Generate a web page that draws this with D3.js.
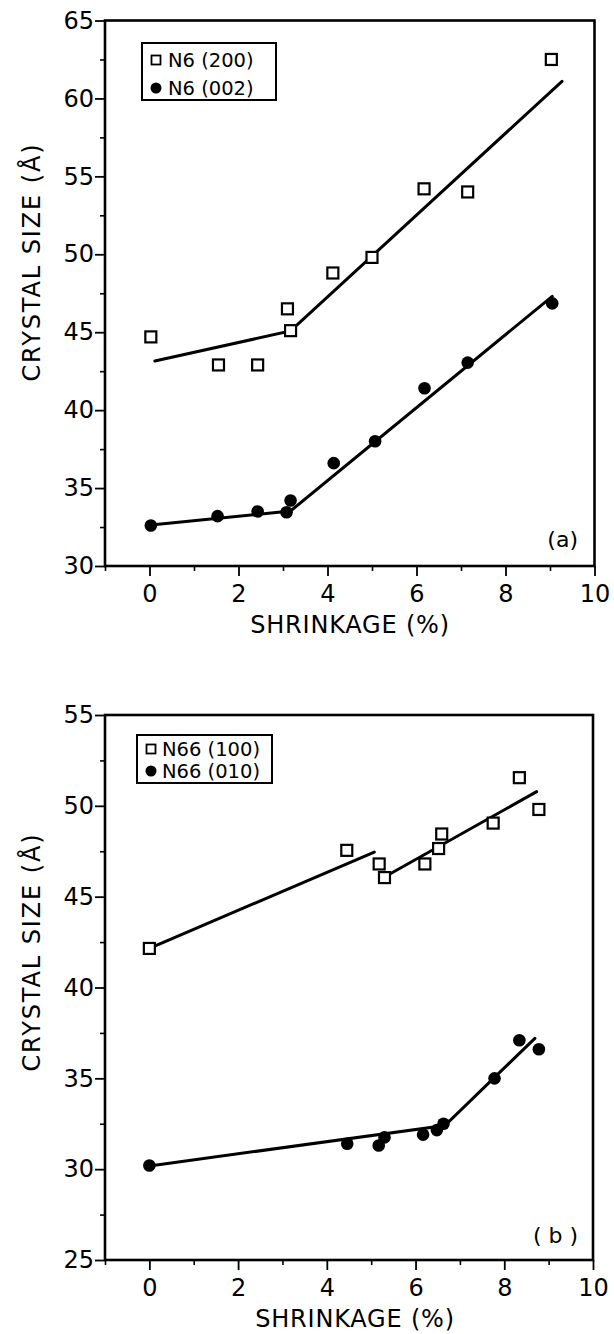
<!DOCTYPE html>
<html>
<head>
<meta charset="utf-8">
<script src="https://cdn.jsdelivr.net/npm/d3@7"></script>
<style>
  html, body { margin: 0; padding: 0; background: #fff; }
  svg { display: block; }
  text { font-family: "DejaVu Sans", "Liberation Sans", sans-serif; fill: #000; }
</style>
</head>
<body>
<svg id="chart" width="614" height="1334"></svg>
<script>
// ---- shared axis values ----
const xMajorTicks = [0, 2, 4, 6, 8, 10];
const xMinorTicks = [-1, 1, 3, 5, 7, 9];

// ---- panel (a): nylon 6 ----
const aYMajorTicks = [30, 35, 40, 45, 50, 55, 60, 65];
const aYMinorTicks = [32.5, 37.5, 42.5, 47.5, 52.5, 57.5, 62.5];

const n6_200_x = [0.03, 1.55, 2.43, 3.10, 3.17, 4.12, 5.00, 6.17, 7.15, 9.03];
const n6_200_y = [44.7, 42.9, 42.9, 46.5, 45.1, 48.8, 49.8, 54.2, 54.0, 62.5];
const n6_002_x = [0.03, 1.53, 2.43, 3.08, 3.17, 4.14, 5.07, 6.18, 7.15, 9.05];
const n6_002_y = [32.6, 33.2, 33.5, 33.45, 34.2, 36.6, 38.0, 41.4, 43.05, 46.85];

// fitted lines (x, y) for panel (a)
const n6_200_fitX = [0.12, 3.17, 9.27];
const n6_200_fitY = [43.15, 45.08, 61.1];
const n6_002_fitX = [0.03, 3.17, 9.05];
const n6_002_fitY = [32.63, 33.53, 47.3];

// ---- panel (b): nylon 66 ----
const bYMajorTicks = [25, 30, 35, 40, 45, 50, 55];
const bYMinorTicks = [27.5, 32.5, 37.5, 42.5, 47.5, 52.5];

const n66_100_x = [0.00, 4.45, 5.18, 5.30, 6.21, 6.52, 6.59, 7.75, 8.34, 8.78];
const n66_100_y = [42.15, 47.55, 46.8, 46.05, 46.8, 47.65, 48.45, 49.05, 51.55, 49.8];
const n66_010_x = [0.00, 4.46, 5.17, 5.30, 6.17, 6.48, 6.63, 7.78, 8.34, 8.78];
const n66_010_y = [30.2, 31.4, 31.3, 31.75, 31.9, 32.15, 32.5, 35.0, 37.1, 36.6];

// fitted lines for panel (b); the (100) fit is broken into two pieces
const n66_100_fit1X = [0.00, 5.07];
const n66_100_fit1Y = [42.16, 47.45];
const n66_100_fit2X = [5.42, 8.73];
const n66_100_fit2Y = [46.25, 50.78];
const n66_010_fitX = [0.00, 6.66, 8.69];
const n66_010_fitY = [30.18, 32.4, 37.2];

const svg = d3.select("#chart");

function zip(xs, ys) { return xs.map((x, i) => [x, ys[i]]); }

function drawPanel(p) {
  const x = d3.scaleLinear().domain([-1, 10]).range([p.left, p.right]);
  const y = d3.scaleLinear().domain(p.yDomain).range([p.bottom, p.top]);
  const g = svg.append("g");

  // minor ticks (unlabelled)
  g.append("g")
    .attr("transform", `translate(0,${p.bottom})`)
    .call(d3.axisBottom(x).tickValues(xMinorTicks).tickSize(5).tickFormat(""))
    .call(a => a.select(".domain").remove())
    .call(a => a.selectAll("line").attr("stroke-width", 1.6));
  g.append("g")
    .attr("transform", `translate(${p.left},0)`)
    .call(d3.axisLeft(y).tickValues(p.yMinor).tickSize(5).tickFormat(""))
    .call(a => a.select(".domain").remove())
    .call(a => a.selectAll("line").attr("stroke-width", 1.6));

  // major ticks with labels
  g.append("g")
    .attr("transform", `translate(0,${p.bottom})`)
    .call(d3.axisBottom(x).tickValues(xMajorTicks).tickSize(10).tickFormat(d3.format("d")))
    .call(a => a.select(".domain").remove())
    .call(a => a.selectAll("line").attr("stroke-width", 1.8))
    .call(a => a.selectAll("text")
      .attr("y", p.xLabelOffset).attr("dy", null)
      .style("font-size", "24px").attr("fill", "#000"));
  g.append("g")
    .attr("transform", `translate(${p.left},0)`)
    .call(d3.axisLeft(y).tickValues(p.yMajor).tickSize(10).tickPadding(1).tickFormat(d3.format("d")))
    .call(a => a.select(".domain").remove())
    .call(a => a.selectAll("line").attr("stroke-width", 1.8))
    .call(a => a.selectAll("text")
      .style("font-size", "24px").attr("fill", "#000"));

  // frame
  g.append("rect")
    .attr("x", p.left).attr("y", p.top)
    .attr("width", p.right - p.left).attr("height", p.bottom - p.top)
    .attr("fill", "none").attr("stroke", "#000").attr("stroke-width", 2.6);

  // axis titles
  g.append("text")
    .attr("x", p.xTitleX).attr("y", p.bottom + p.xTitleOffset)
    .attr("text-anchor", "middle")
    .style("font-size", "24px").style("letter-spacing", "0.8px")
    .text("SHRINKAGE (%)");
  g.append("text")
    .attr("transform", `translate(${p.yTitleX},${p.yTitleY}) rotate(-90)`)
    .attr("text-anchor", "middle").attr("dy", "0.36em")
    .style("font-size", "24px").style("letter-spacing", "1.9px")
    .text("CRYSTAL SIZE (Å)");

  // panel tag
  g.append("text")
    .attr("x", p.tagX).attr("y", p.tagY)
    .attr("text-anchor", "end")
    .style("font-size", "22px")
    .text(p.tag);

  // fitted lines
  const line = d3.line().x(d => x(d[0])).y(d => y(d[1]));
  p.fits.forEach(f => {
    g.append("path").datum(f)
      .attr("d", line).attr("fill", "none")
      .attr("stroke", "#000").attr("stroke-width", 3).attr("stroke-linecap", "round");
  });

  // open squares
  const s = 11;
  g.selectAll(null).data(p.squares).enter().append("rect")
    .attr("x", d => x(d[0]) - s / 2).attr("y", d => y(d[1]) - s / 2)
    .attr("width", s).attr("height", s)
    .attr("fill", "#fff").attr("stroke", "#000").attr("stroke-width", 2.2);

  // filled circles
  g.selectAll(null).data(p.circles).enter().append("circle")
    .attr("cx", d => x(d[0])).attr("cy", d => y(d[1])).attr("r", 6.3)
    .attr("fill", "#000");

  // legend
  const L = p.legend;
  const lg = g.append("g");
  lg.append("rect")
    .attr("x", L.x).attr("y", L.y).attr("width", L.w).attr("height", L.h)
    .attr("fill", "#fff").attr("stroke", "#000").attr("stroke-width", 2);
  lg.append("rect")
    .attr("x", L.mx - 4.5).attr("y", L.y1 - 4.5).attr("width", 9).attr("height", 9)
    .attr("fill", "#fff").attr("stroke", "#000").attr("stroke-width", 1.8);
  lg.append("circle")
    .attr("cx", L.mx).attr("cy", L.y2).attr("r", 5.5).attr("fill", "#000");
  lg.append("text").attr("x", L.tx).attr("y", L.y1).attr("dy", "0.36em")
    .style("font-size", "19.5px").text(L.labels[0]);
  lg.append("text").attr("x", L.tx).attr("y", L.y2).attr("dy", "0.36em")
    .style("font-size", "19.5px").text(L.labels[1]);
}

drawPanel({
  left: 105, right: 594.5, top: 20.5, bottom: 566,
  yDomain: [30, 65], yMajor: aYMajorTicks, yMinor: aYMinorTicks,
  xLabelOffset: 36, xTitleX: 350, xTitleOffset: 67,
  yTitleX: 31, yTitleY: 262,
  tag: "(a)", tagX: 578, tagY: 547,
  fits: [zip(n6_200_fitX, n6_200_fitY), zip(n6_002_fitX, n6_002_fitY)],
  squares: zip(n6_200_x, n6_200_y),
  circles: zip(n6_002_x, n6_002_y),
  legend: { x: 142, y: 43, w: 134, h: 57, mx: 156, tx: 168, y1: 60, y2: 88,
            labels: ["N6 (200)", "N6 (002)"] }
});

drawPanel({
  left: 105, right: 593, top: 715, bottom: 1260,
  yDomain: [25, 55], yMajor: bYMajorTicks, yMinor: bYMinorTicks,
  xLabelOffset: 36, xTitleX: 355, xTitleOffset: 67,
  yTitleX: 31, yTitleY: 952,
  tag: "( b )", tagX: 578, tagY: 1243,
  fits: [zip(n66_100_fit1X, n66_100_fit1Y), zip(n66_100_fit2X, n66_100_fit2Y),
         zip(n66_010_fitX, n66_010_fitY)],
  squares: zip(n66_100_x, n66_100_y),
  circles: zip(n66_010_x, n66_010_y),
  legend: { x: 137, y: 735, w: 135, h: 48, mx: 151, tx: 162, y1: 749, y2: 771,
            labels: ["N66 (100)", "N66 (010)"] }
});
</script>
</body>
</html>
